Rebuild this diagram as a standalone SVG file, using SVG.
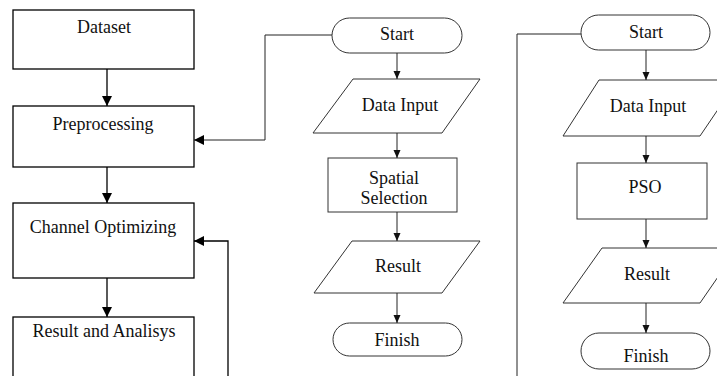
<svg xmlns="http://www.w3.org/2000/svg" width="717" height="376" viewBox="0 0 717 376">
<defs>
<marker id="ab" markerWidth="10" markerHeight="10" refX="10" refY="5" orient="auto" markerUnits="userSpaceOnUse" viewBox="0 0 10 10"><path d="M0,0 L10,5 L0,10 z" fill="#000"/></marker>
<marker id="as" markerWidth="8" markerHeight="8" refX="8" refY="4" orient="auto" markerUnits="userSpaceOnUse" viewBox="0 0 8 8"><path d="M0,0.5 L8,4 L0,7.5 z" fill="#111"/></marker>
</defs>
<style>
.b{fill:#fff;stroke:#000;stroke-width:1.3}
.s{fill:#fff;stroke:#333;stroke-width:1}
.cb{fill:none;stroke:#000;stroke-width:1.3}
.cs{fill:none;stroke:#222;stroke-width:1}
text{font-family:'Liberation Serif','Times New Roman',serif;font-size:18px;text-anchor:middle;fill:#111}
</style>
<rect width="717" height="376" fill="#fff"/>
<g id="dataset"><rect class="b" x="13" y="10" width="181" height="59"/><text x="104" y="33">Dataset</text></g>
<g id="preprocessing"><rect class="b" x="13" y="106" width="181" height="61"/><text x="103" y="130">Preprocessing</text></g>
<g id="channel"><rect class="b" x="13" y="203" width="181" height="75"/><text x="103" y="233">Channel Optimizing</text></g>
<g id="result-analysis"><rect class="b" x="13" y="317" width="181" height="70"/><text x="104" y="337">Result and Analisys</text></g>

<g id="start1"><rect class="s" x="332" y="18" width="130" height="35" rx="17.5"/><text x="397" y="40">Start</text></g>
<g id="input1"><path class="s" d="M353,79 L480,79 L442,133 L313,133 Z"/><text x="400" y="111">Data Input</text></g>
<g id="spatial"><rect class="s" x="328" y="158" width="129" height="54"/><text x="394" y="184">Spatial</text><text x="394" y="204">Selection</text></g>
<g id="result1"><path class="s" d="M352,241 L480,241 L442,293 L314,293 Z"/><text x="398" y="272">Result</text></g>
<g id="finish1"><rect class="s" x="333" y="323" width="129" height="33" rx="16.5"/><text x="397" y="346">Finish</text></g>

<g id="start2"><rect class="s" x="581" y="15" width="129" height="35" rx="17.5"/><text x="646" y="38">Start</text></g>
<g id="input2"><path class="s" d="M599,80 L738,80 L700,136 L563,136 Z"/><text x="648" y="112">Data Input</text></g>
<g id="pso"><rect class="s" x="577" y="163" width="130" height="56"/><text x="645" y="193">PSO</text></g>
<g id="result2"><path class="s" d="M602,248 L738,248 L700,303 L563,303 Z"/><text x="647" y="280">Result</text></g>
<g id="finish2"><rect class="s" x="581" y="333" width="129" height="36" rx="18"/><text x="646" y="362">Finish</text></g>

<g id="connectors">
<line class="cb" x1="107" y1="69" x2="107" y2="106" marker-end="url(#ab)"/>
<line class="cb" x1="107" y1="167" x2="107" y2="203" marker-end="url(#ab)"/>
<line class="cb" x1="107" y1="278" x2="107" y2="317" marker-end="url(#ab)"/>
<path class="cb" d="M228,376 L228,241 L194,241" marker-end="url(#ab)"/>
<path class="cs" d="M332,35 L265,35 L265,140 L194,140" marker-end="url(#ab)"/>
<line class="cs" x1="397" y1="53" x2="397" y2="79" marker-end="url(#as)"/>
<line class="cs" x1="397" y1="133" x2="397" y2="158" marker-end="url(#as)"/>
<line class="cs" x1="397" y1="212" x2="397" y2="241" marker-end="url(#as)"/>
<line class="cs" x1="397" y1="293" x2="397" y2="323" marker-end="url(#as)"/>
<path class="cs" d="M581,34 L517,34 L517,376"/>
<line class="cs" x1="646" y1="50" x2="646" y2="80" marker-end="url(#as)"/>
<line class="cs" x1="646" y1="136" x2="646" y2="163" marker-end="url(#as)"/>
<line class="cs" x1="646" y1="219" x2="646" y2="248" marker-end="url(#as)"/>
<line class="cs" x1="646" y1="303" x2="646" y2="333" marker-end="url(#as)"/>
</g>
</svg>
